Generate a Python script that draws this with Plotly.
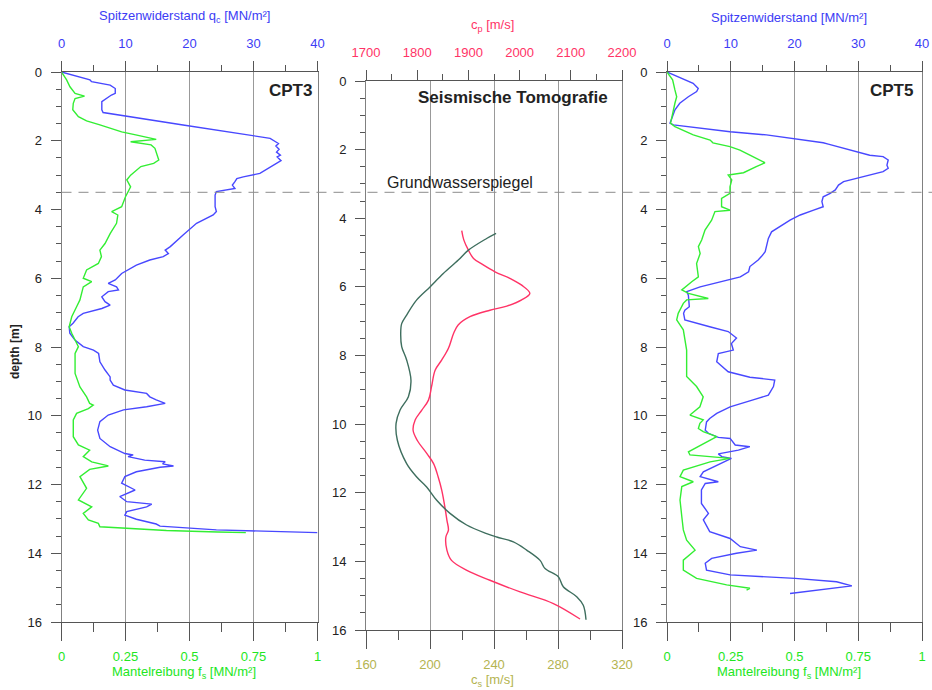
import plotly.graph_objects as go

# ---------------- data ----------------
GW_DEPTH = 3.5  # Grundwasserspiegel [m]

cpt3_qc_depth = [0.00, 0.23, 0.28, 0.38, 0.48, 0.62, 0.67, 0.86, 1.10, 1.18, 1.54, 1.83, 1.93, 2.08, 2.15,
                 2.25, 2.33, 2.42, 2.47, 2.58, 2.75, 2.90, 2.95, 3.05, 3.10, 3.19, 3.29, 3.39, 3.48, 3.58,
                 3.92, 4.06, 4.16, 4.40, 4.60, 4.74, 5.08, 5.18, 5.28, 5.37, 5.47, 5.62, 5.86, 6.05, 6.15,
                 6.25, 6.34, 6.39, 6.54, 6.68, 6.78, 6.88, 7.02, 7.12, 7.31, 7.41, 7.60, 7.80, 7.99, 8.09,
                 8.19, 8.43, 8.67, 8.87, 8.96, 9.11, 9.25, 9.35, 9.45, 9.54, 9.64, 9.74, 9.83, 9.98, 10.17,
                 10.42, 10.66, 10.90, 11.10, 11.14, 11.19, 11.29, 11.34, 11.40, 11.46, 11.50, 11.63, 11.77,
                 11.96, 12.16, 12.35, 12.50, 12.57, 12.65, 12.79, 12.89, 13.01, 13.11, 13.15, 13.21, 13.32,
                 13.40]
cpt3_qc = [0.0, 4.45, 4.7, 7.6, 8.4, 8.4, 7.8, 6.3, 6.3, 6.5, 19.0, 29.5, 32.6, 33.9, 33.5,
           34.0, 33.6, 34.2, 33.7, 34.3, 32.8, 31.3, 31.0, 28.4, 27.4, 27.1, 26.7, 27.1, 24.2, 24.0,
           24.0, 24.2, 23.7, 21.1, 19.8, 19.0, 17.0, 16.2, 16.7, 15.9, 13.8, 11.7, 9.4, 8.4, 7.3,
           8.6, 8.9, 7.3, 6.3, 6.8, 7.6, 6.3, 3.4, 2.6, 1.8, 1.2, 1.3, 2.1, 3.4, 5.0,
           5.8, 6.0, 6.8, 7.6, 7.6, 8.1, 9.9, 13.3, 13.8, 14.8, 16.2, 13.3, 9.7, 7.3, 6.0,
           5.65, 6.0, 7.6, 9.9, 11.2, 10.4, 13.0, 16.2, 15.8, 17.5, 15.4, 11.7, 9.9,
           9.4, 11.5, 9.1, 10.2, 14.1, 13.3, 10.2, 9.9, 11.7, 14.1, 14.8, 15.4, 24.2,
           40.0]

cpt3_fs_depth = [0.00, 0.23, 0.43, 0.62, 0.70, 0.77, 0.91, 1.10, 1.30, 1.42, 1.54, 1.74, 1.83, 1.96, 2.03,
                 2.12, 2.22, 2.56, 2.66, 2.75, 3.00, 3.14, 3.34, 3.48, 3.63, 3.92, 4.06, 4.16, 4.40, 4.70,
                 4.99, 5.18, 5.37, 5.57, 5.76, 6.00, 6.10, 6.25, 6.44, 6.63, 6.83, 7.12, 7.41, 7.60, 7.99,
                 8.19, 8.77, 9.16, 9.45, 9.64, 9.69, 9.79, 9.93, 10.12, 10.61, 10.85, 11.00, 11.19, 11.34,
                 11.46, 11.56, 11.77, 12.11, 12.45, 12.65, 12.84, 13.03, 13.13, 13.23, 13.28, 13.34, 13.38,
                 13.40]
cpt3_fs = [0.0, 0.02, 0.033, 0.053, 0.09, 0.053, 0.046, 0.044, 0.066, 0.098, 0.15, 0.235, 0.29, 0.37, 0.27,
           0.35, 0.365, 0.38, 0.36, 0.31, 0.27, 0.255, 0.27, 0.26, 0.25, 0.235, 0.196, 0.22, 0.215, 0.19,
           0.17, 0.15, 0.156, 0.144, 0.098, 0.085, 0.118, 0.085, 0.079, 0.072, 0.059, 0.04, 0.03, 0.04, 0.066,
           0.053, 0.053, 0.072, 0.098, 0.11, 0.124, 0.105, 0.059, 0.046, 0.046, 0.066, 0.11, 0.085, 0.118,
           0.183, 0.11, 0.072, 0.098, 0.066, 0.118, 0.085, 0.105, 0.144, 0.15, 0.255, 0.41, 0.61,
           0.72]

seis_cs_depth = [4.44, 4.59, 4.93, 5.22, 5.61, 6.00, 6.38, 6.82, 7.07, 7.36, 7.74, 8.13, 8.72, 9.20, 9.59,
                 9.98, 10.47, 11.15, 11.54, 11.83, 12.22, 12.60, 12.94, 13.19, 13.29, 13.43, 13.67, 13.97,
                 14.21, 14.45, 14.74, 15.03, 15.28, 15.70]
seis_cs = [241.3, 235.4, 224.0, 217.7, 208.3, 200.0, 191.7, 185.4, 182.3, 181.7, 182.3, 185.4, 188.1, 186.5, 181.3,
           178.8, 179.6, 185.4, 191.7, 197.9, 204.2, 212.5, 222.9, 235.4, 241.7, 252.1, 260.4, 268.8,
           271.9, 280.2, 283.3, 291.7, 295.8, 297.5]

seis_cp_depth = [4.36, 4.63, 4.93, 5.17, 5.36, 5.56, 5.75, 5.95, 6.19, 6.38, 6.56, 6.68, 6.87, 7.11, 7.36,
                 7.79, 8.13, 8.43, 8.91, 9.30, 9.59, 9.88, 10.18, 10.47, 10.86, 11.15, 11.54, 11.93, 12.41,
                 12.80, 13.09, 13.29, 13.67, 13.97, 14.26, 14.55, 14.89, 15.23, 15.68]
seis_cp = [1887, 1891, 1900, 1910, 1929, 1952, 1981, 2004, 2020, 2004, 1975, 1942, 1903, 1880, 1871,
           1861, 1848, 1835, 1828, 1822, 1809, 1796, 1792, 1800, 1819, 1832, 1841, 1848, 1854,
           1858, 1861, 1856, 1858, 1867, 1897, 1942, 2001, 2066, 2118]

cpt5_qc_depth = [0.00, 0.14, 0.23, 0.33, 0.48, 0.57, 0.72, 0.91, 1.10, 1.35, 1.49, 1.54, 1.64, 1.74, 1.83,
                 1.95, 2.06, 2.10, 2.27, 2.42, 2.46, 2.56, 2.71, 2.80, 2.90, 3.00, 3.09, 3.19, 3.29, 3.43,
                 3.53, 3.63, 3.77, 3.92, 4.02, 4.16, 4.31, 4.50, 4.65, 4.84, 5.08, 5.23, 5.37, 5.47, 5.66,
                 5.81, 5.96, 6.05, 6.25, 6.39, 6.49, 6.83, 6.93, 7.02, 7.21, 7.41, 7.55, 7.74, 7.90, 8.09,
                 8.19, 8.43, 8.72, 8.88, 8.96, 9.15, 9.40, 9.54, 9.74, 9.93, 10.08, 10.18, 10.42, 10.51,
                 10.63, 10.66, 10.85, 10.90, 11.00, 11.11, 11.19, 11.24, 11.38, 11.63, 11.77, 11.92, 11.97,
                 12.16, 12.55, 12.84, 13.03, 13.37, 13.57, 13.81, 13.91, 14.00, 14.15, 14.29, 14.49, 14.63,
                 14.73, 14.83, 14.95, 15.05, 15.17]
cpt5_qc = [0.0, 1.8, 3.1, 4.1, 4.9, 4.65, 3.35, 2.0, 1.25, 0.7, 0.47, 1.0, 5.2, 9.9, 15.6,
           20.3, 24.5, 25.3, 28.7, 31.8, 33.9, 34.7, 34.5, 34.7, 33.9, 31.8, 30.0, 27.7, 26.9, 26.4,
           25.6, 24.5, 24.3, 24.5, 23.0, 20.9, 19.3, 17.7, 16.4, 15.9, 15.6, 15.4, 14.8, 14.3, 13.0,
           12.8, 11.5, 9.4, 5.2, 3.1, 3.35, 3.5, 2.8, 2.6, 2.8, 6.7, 9.6, 10.9, 10.1, 10.4,
           8.05, 7.8, 9.6, 13.0, 16.9, 16.7, 15.9, 13.5, 9.9, 7.8, 6.7, 6.2, 6.0, 6.5,
           8.05, 9.9, 10.7, 13.0, 11.2, 8.05, 8.6, 10.1, 8.6, 5.7, 5.2, 8.05, 6.0,
           5.4, 5.4, 6.5, 5.7, 6.7, 9.9, 11.5, 14.1, 10.9, 7.0, 6.0, 6.2, 9.9,
           20.1, 26.6, 29.0, 24.5, 19.3]

cpt5_fs_depth = [0.00, 0.23, 0.52, 0.72, 0.91, 1.20, 1.49, 1.59, 1.83, 1.98, 2.06, 2.17, 2.27, 2.42, 2.64,
                 2.75, 2.93, 3.00, 3.14, 3.34, 3.53, 3.68, 3.92, 4.02, 4.06, 4.31, 4.60, 4.89, 5.08, 5.28,
                 5.57, 5.96, 6.10, 6.34, 6.44, 6.59, 6.63, 6.73, 7.02, 7.21, 7.50, 8.09, 8.86, 9.15, 9.45,
                 9.74, 9.98, 10.12, 10.22, 10.37, 10.46, 10.61, 10.80, 11.05, 11.14, 11.24, 11.34, 11.58,
                 11.77, 11.92, 12.06, 12.45, 12.93, 13.32, 13.62, 13.91, 14.20, 14.49, 14.73, 14.92, 15.02,
                 15.07]
cpt5_fs = [0.0, 0.022, 0.031, 0.038, 0.031, 0.022, 0.014, 0.031, 0.103, 0.169, 0.18, 0.247, 0.286, 0.325, 0.384,
           0.35, 0.30, 0.24, 0.254, 0.247, 0.247, 0.214, 0.214, 0.247, 0.188, 0.175, 0.149, 0.136, 0.123, 0.13,
           0.116, 0.123, 0.097, 0.058, 0.084, 0.162, 0.077, 0.064, 0.044, 0.038, 0.064, 0.077, 0.077, 0.116, 0.142,
           0.129, 0.09, 0.142, 0.129, 0.123, 0.142, 0.195, 0.149, 0.084, 0.09, 0.247, 0.169, 0.064,
           0.051, 0.103, 0.058, 0.051, 0.058, 0.064, 0.077, 0.11, 0.064, 0.064, 0.116, 0.234, 0.325,
           0.312]

qc_range = [0, 40]
fs_range = [0, 1]
cp_range = [1700, 2200]
cs_range = [160, 320]
depth_range = [16, 0]

# ---------------- style ----------------
FONT = "Arial, 'Liberation Sans', sans-serif"
BLUE = "#4848ff"
BLUE_TXT = "#3c3cf5"
GREEN = "#33ee33"
GREEN_TXT = "#22e622"
RED = "#ff3366"
TEAL = "#3e6e5e"
OLIVE = "#b4b450"
AXIS = "#555555"
GRID = "#999999"
W, H = 932, 690


def fx(p):
    return p / W


def fy(p):
    return 1 - p / H


LEFT = [fx(61.5), fx(317.5)]
MID = [fx(366), fx(622)]
RIGHT = [fx(667), fx(922)]
Y_LR = [fy(622), fy(72)]
Y_MID = [fy(630), fy(81)]


def top_axis(domain, anchor, rng, dtick, mdtick, color, grid):
    return dict(domain=domain, anchor=anchor, side="top", range=rng, tick0=rng[0], dtick=dtick,
                showline=True, linecolor=AXIS, linewidth=1, ticks="outside", ticklen=10,
                tickcolor=AXIS, tickwidth=1, ticklabelstandoff=8,
                tickfont=dict(family=FONT, size=13, color=color),
                minor=dict(dtick=mdtick, tick0=rng[0], ticks="outside", ticklen=6,
                           tickcolor=AXIS, showgrid=False),
                showgrid=grid, gridcolor=GRID, gridwidth=1, zeroline=False, fixedrange=True)


def bottom_axis(overlay, anchor, rng, dtick, mdtick, color, grid):
    return dict(overlaying=overlay, anchor=anchor, side="bottom", range=rng, tick0=rng[0], dtick=dtick,
                showline=True, linecolor=AXIS, linewidth=1, ticks="outside", ticklen=18,
                tickcolor=AXIS, tickwidth=1, ticklabelstandoff=4,
                tickfont=dict(family=FONT, size=13, color=color),
                minor=dict(dtick=mdtick, tick0=rng[0], ticks="outside", ticklen=9,
                           tickcolor=AXIS, showgrid=False),
                showgrid=grid, gridcolor=GRID, gridwidth=1, zeroline=False, fixedrange=True)


def depth_axis(domain, anchor):
    return dict(domain=domain, anchor=anchor, range=depth_range, dtick=2, tick0=0,
                showline=True, mirror=True, linecolor="#808080", linewidth=1,
                ticks="outside", ticklen=10, tickcolor=AXIS, ticklabelstandoff=6,
                tickfont=dict(family=FONT, size=13, color="#222222"),
                minor=dict(dtick=0.5, tick0=0, ticks="outside", ticklen=5, tickcolor=AXIS,
                           showgrid=False),
                showgrid=False, zeroline=False, fixedrange=True)


fig = go.Figure()
lw = 1.4
fig.add_trace(go.Scatter(x=cpt3_qc, y=cpt3_qc_depth, xaxis="x", yaxis="y", mode="lines",
                         line=dict(color=BLUE, width=lw), name="q_c CPT3"))
fig.add_trace(go.Scatter(x=cpt3_fs, y=cpt3_fs_depth, xaxis="x2", yaxis="y", mode="lines",
                         line=dict(color=GREEN, width=lw), name="f_s CPT3"))
fig.add_trace(go.Scatter(x=seis_cs, y=seis_cs_depth, xaxis="x4", yaxis="y2", mode="lines",
                         line=dict(color=TEAL, width=lw, shape="spline"), name="c_s"))
fig.add_trace(go.Scatter(x=seis_cp, y=seis_cp_depth, xaxis="x3", yaxis="y2", mode="lines",
                         line=dict(color=RED, width=lw, shape="spline"), name="c_p"))
fig.add_trace(go.Scatter(x=cpt5_qc, y=cpt5_qc_depth, xaxis="x5", yaxis="y3", mode="lines",
                         line=dict(color=BLUE, width=lw), name="q_c CPT5"))
fig.add_trace(go.Scatter(x=cpt5_fs, y=cpt5_fs_depth, xaxis="x6", yaxis="y3", mode="lines",
                         line=dict(color=GREEN, width=lw), name="f_s CPT5"))


def ann(text, x, y, color="#222222", size=13, bold=False, xanchor="center", angle=0):
    if bold:
        text = "<b>" + text + "</b>"
    return dict(text=text, x=x, y=y, xref="paper", yref="paper", xanchor=xanchor, yanchor="middle",
                showarrow=False, textangle=angle, font=dict(family=FONT, size=size, color=color))


annotations = [
    ann("Spitzenwiderstand q<sub>c</sub> [MN/m²]", fx(184), fy(16), BLUE_TXT),
    ann("Mantelreibung f<sub>s</sub> [MN/m²]", fx(184), fy(672), GREEN_TXT),
    ann("c<sub>p</sub> [m/s]", fx(492), fy(26), RED),
    ann("c<sub>s</sub> [m/s]", fx(492), fy(680), OLIVE),
    ann("Spitzenwiderstand [MN/m²]", fx(789), fy(17), BLUE_TXT),
    ann("Mantelreibung f<sub>s</sub> [MN/m²]", fx(789), fy(672), GREEN_TXT),
    ann("CPT3", fx(314), fy(90), size=17, bold=True, xanchor="right"),
    ann("Seismische Tomografie", fx(513), fy(97), size=17, bold=True),
    ann("CPT5", fx(915), fy(90), size=17, bold=True, xanchor="right"),
    ann("Grundwasserspiegel", fx(385), fy(182), size=16, xanchor="left"),
    ann("depth [m]", fx(15), fy(352), size=12, bold=True, angle=-90),
]

shapes = [dict(type="line", xref="paper", yref="y", x0=LEFT[0], x1=1.0, y0=GW_DEPTH, y1=GW_DEPTH,
               line=dict(color="#8c8c8c", width=1, dash="10px,7px"), layer="above")]

fig.update_layout(
    template="none",
    width=W, height=H,
    margin=dict(l=0, r=0, t=0, b=0, pad=0),
    paper_bgcolor="white", plot_bgcolor="white",
    showlegend=False,
    font=dict(family=FONT, size=13, color="#222222"),
    xaxis=top_axis(LEFT, "y", qc_range, 10, 5, BLUE_TXT, True),
    xaxis2=bottom_axis("x", "y", fs_range, 0.25, 0.125, GREEN_TXT, False),
    xaxis3=top_axis(MID, "y2", cp_range, 100, 50, RED, False),
    xaxis4=bottom_axis("x3", "y2", cs_range, 40, 20, OLIVE, True),
    xaxis5=top_axis(RIGHT, "y3", qc_range, 10, 5, BLUE_TXT, True),
    xaxis6=bottom_axis("x5", "y3", fs_range, 0.25, 0.125, GREEN_TXT, False),
    yaxis=depth_axis(Y_LR, "x"),
    yaxis2=depth_axis(Y_MID, "x3"),
    yaxis3=depth_axis(Y_LR, "x5"),
    annotations=annotations,
    shapes=shapes,
)

fig.write_html("out.html", config={"displayModeBar": False},
               post_script="document.body.style.margin='0px';")
